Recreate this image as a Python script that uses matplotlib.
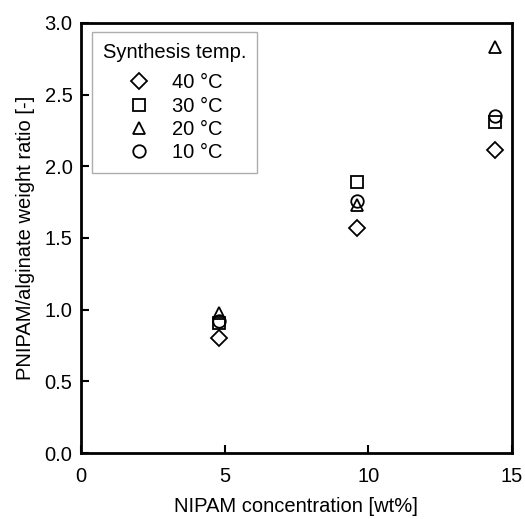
import matplotlib
matplotlib.use('Agg')
import matplotlib.pyplot as plt

plt.rcParams['font.family'] = ['Liberation Sans', 'DejaVu Sans']

# NIPAM concentration [wt%] used for each synthesis temperature
nipam = [4.8, 9.6, 14.4]

labels = ['40 °C', '30 °C', '20 °C', '10 °C']
markers = ['D', 's', '^', 'o']
marker_sizes = [7.9, 8.6, 9.2, 9.0]

# PNIPAM/alginate weight ratio for each temperature
ratio_40 = [0.80, 1.57, 2.11]
ratio_30 = [0.91, 1.89, 2.31]
ratio_20 = [0.98, 1.73, 2.83]
ratio_10 = [0.92, 1.76, 2.35]
ratios = [ratio_40, ratio_30, ratio_20, ratio_10]

fig = plt.figure(figsize=(5.25, 5.19), dpi=100)
ax = fig.add_axes([0.154, 0.127, 0.821, 0.829])

for y, lab, m, ms in zip(ratios, labels, markers, marker_sizes):
    ax.plot(nipam, y, linestyle='none', marker=m, markersize=ms,
            markerfacecolor='none', markeredgecolor='black',
            markeredgewidth=1.3, label=lab)

ax.set_xlim(0, 15)
ax.set_ylim(0, 3.0)
ax.set_xticks([0, 5, 10, 15])
ax.set_yticks([0.0, 0.5, 1.0, 1.5, 2.0, 2.5, 3.0])
ax.set_yticklabels(['0.0', '0.5', '1.0', '1.5', '2.0', '2.5', '3.0'])
ax.tick_params(direction='in', length=6, width=1.5, labelsize=14.5, pad=6,
               colors='black')
ax.tick_params(axis='x', pad=10)
for s in ax.spines.values():
    s.set_linewidth(2)

ax.set_xlabel('NIPAM concentration [wt%]', fontsize=14.5, labelpad=8)
ax.set_ylabel('PNIPAM/alginate weight ratio [-]', fontsize=14.5, labelpad=7)

leg = ax.legend(title='Synthesis temp.', loc='upper left',
                bbox_to_anchor=(0.0255, 0.979), borderaxespad=0,
                fontsize=14.5, title_fontsize=14.5, frameon=True,
                fancybox=False, edgecolor='#999999', labelspacing=0.21,
                handletextpad=1.05, handlelength=1.2, borderpad=0.55)
leg.get_frame().set_linewidth(1.0)
# a little more room between the title and the entries
leg._legend_box.sep = 0.21 * 14.5 * 100 / 72 + 4

fig.savefig('out.png', dpi=100)
